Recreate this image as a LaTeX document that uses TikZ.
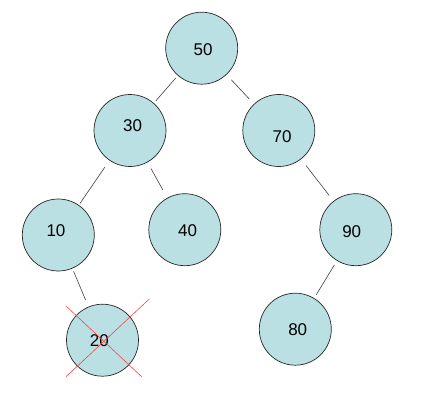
\documentclass[tikz,border=0pt]{standalone}
\usepackage{fontspec}
\setmainfont{Liberation Sans}
\usepackage{tikz}
\definecolor{nodefill}{RGB}{187,224,227}
\definecolor{crossred}{RGB}{245,70,70}

\begin{document}
\begin{tikzpicture}[x=1pt,y=-1pt]
    \tikzset{vertex/.style= {draw=black!85, circle
    , fill=nodefill
    , line width=0.7pt
    , minimum size=72pt
    , inner sep=0pt
      }
    , num/.style={font=\fontsize{17}{20}\selectfont}
    , link/.style={draw=black!75, line width=0.6pt}
    }

\useasboundingbox (0,0) rectangle (425,412);

\node [vertex, label={[num, shift={(1.5,1.5)}]center:50}] (n50) at (201.7,48.2) {};
\node [vertex, label={[num, shift={(2.7,-4.8)}]center:30}] (n30) at (130,130.5) {};
\node [vertex, label={[num, shift={(3.2,6.2)}]center:70}] (n70) at (278.8,130.5) {};
\node [vertex, label={[num, shift={(-2.3,-4.3)}]center:10}] (n10) at (58.3,235) {};
\node [vertex, label={[num, shift={(2.9,1)}]center:40}] (n40) at (184.8,229.7) {};
\node [vertex, label={[num, shift={(-4.1,1.6)}]center:90}] (n90) at (355.8,229.7) {};
\node [vertex, label={[num, shift={(-3.2,0.5)}]center:20}] (n20) at (102.5,340.2) {};
\node [vertex, label={[num, shift={(2.4,0)}]center:80}] (n80) at (295.3,329.2) {};

 \path[link]
  (n50) edge[shorten <=3pt, shorten >=3pt] (n30)
  (n50) edge[shorten <=7pt, shorten >=7pt] (n70)
  (n30) edge[shorten <=8pt, shorten >=2pt] (n10)
  (n30) edge[shorten <=7pt, shorten >=9pt] (n40)
  (n70) edge[shorten <=8pt, shorten >=7pt] (n90)
  (n10) edge[shorten <=3pt, shorten >=7pt] (n20)
  (n90) edge[shorten <=5pt, shorten >=4pt] (n80);

% cross over the deleted key
\draw[crossred, line width=0.6pt]
  ([shift={(-36.5,-34.2)}]n20.center) -- ([shift={(39.2,36.5)}]n20.center)
  ([shift={(46.8,-41.2)}]n20.center) -- ([shift={(-36.5,36.5)}]n20.center);
\end{tikzpicture}
\end{document}
